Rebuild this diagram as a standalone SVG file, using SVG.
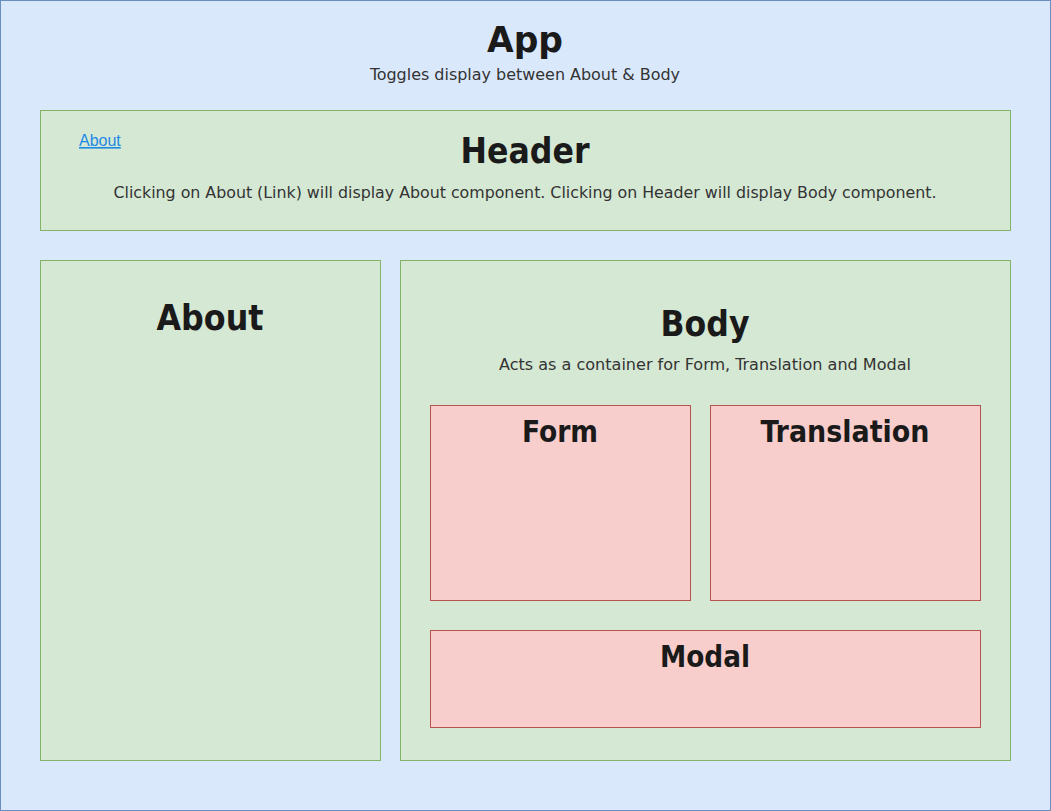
<svg xmlns="http://www.w3.org/2000/svg" width="1051" height="811" viewBox="0 0 1051 811">
  <style>
    .app { fill: #dae8fc; stroke: #6c8ebf; stroke-width: 1; }
    .green { fill: #d5e8d4; stroke: #82b366; stroke-width: 1; }
    .red { fill: #f8cecc; stroke: #b85450; stroke-width: 1; }
    .title { font-family: "DejaVu Sans Condensed", "DejaVu Sans", sans-serif; font-weight: bold; fill: #1a1a1a; text-anchor: middle; }
    .t36 { font-size: 36px; }
    .t30 { font-size: 30px; }
    .desc { font-family: "DejaVu Sans Condensed", "DejaVu Sans", sans-serif; font-size: 16px; fill: #333333; text-anchor: middle; }
    .link { font-family: "Liberation Sans", Arial, sans-serif; font-size: 16px; fill: #1e88e5; text-decoration: underline; }
  </style>

  <g id="app">
    <rect class="app" x="0.5" y="0.5" width="1050" height="810"/>
    <text class="title t36" x="525" y="52" textLength="76" lengthAdjust="spacingAndGlyphs">App</text>
    <text class="desc" x="525" y="80" textLength="310" lengthAdjust="spacingAndGlyphs">Toggles display between About &amp; Body</text>
  </g>

  <g id="header">
    <rect class="green" x="40.5" y="110.5" width="970" height="120"/>
    <text class="link" x="79" y="146">About</text>
    <text class="title t36" x="525" y="163" textLength="129" lengthAdjust="spacingAndGlyphs">Header</text>
    <text class="desc" x="525" y="198" textLength="823" lengthAdjust="spacingAndGlyphs">Clicking on About (Link) will display About component. Clicking on Header will display Body component.</text>
  </g>

  <g id="about">
    <rect class="green" x="40.5" y="260.5" width="340" height="500"/>
    <text class="title t36" x="210" y="330" textLength="107" lengthAdjust="spacingAndGlyphs">About</text>
  </g>

  <g id="body">
    <rect class="green" x="400.5" y="260.5" width="610" height="500"/>
    <text class="title t36" x="705" y="336" textLength="89" lengthAdjust="spacingAndGlyphs">Body</text>
    <text class="desc" x="705" y="370" textLength="412" lengthAdjust="spacingAndGlyphs">Acts as a container for Form, Translation and Modal</text>
  </g>

  <g id="form">
    <rect class="red" x="430.5" y="405.5" width="260" height="195"/>
    <text class="title t30" x="560" y="442" textLength="76" lengthAdjust="spacingAndGlyphs">Form</text>
  </g>

  <g id="translation">
    <rect class="red" x="710.5" y="405.5" width="270" height="195"/>
    <text class="title t30" x="845" y="442" textLength="169" lengthAdjust="spacingAndGlyphs">Translation</text>
  </g>

  <g id="modal">
    <rect class="red" x="430.5" y="630.5" width="550" height="97"/>
    <text class="title t30" x="705" y="667" textLength="90" lengthAdjust="spacingAndGlyphs">Modal</text>
  </g>

  <g id="connectors"></g>
</svg>
